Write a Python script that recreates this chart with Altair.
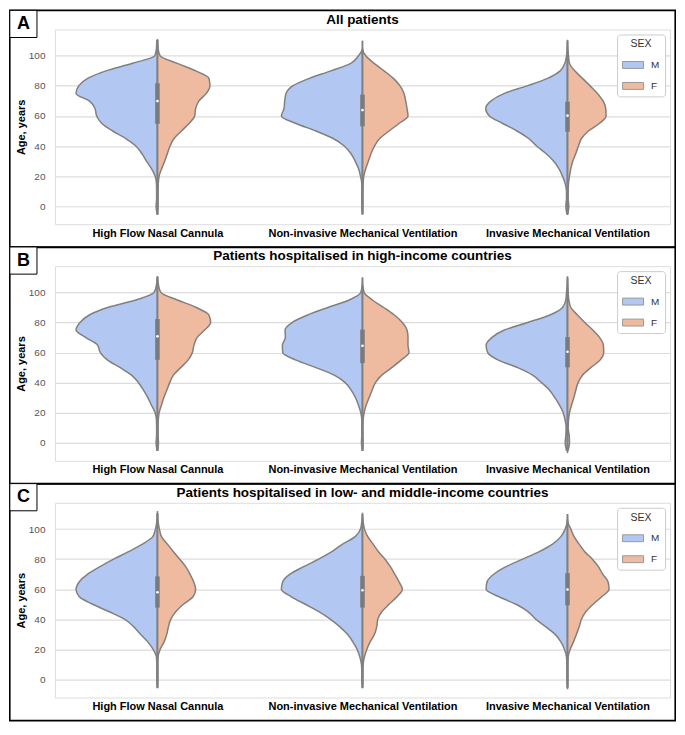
import json
import altair as alt
import pandas as pd

# ---------------- data ----------------
AGES = [-5, 0, 5, 10, 15, 20, 25, 30, 35, 40, 45, 50, 55, 60, 65, 70, 75, 80, 85, 90, 95, 100, 105, 110]
CATEGORIES = ["High Flow Nasal Cannula", "Non-invasive Mechanical Ventilation", "Invasive Mechanical Ventilation"]
SEXES = ["M", "F"]
PANEL_TITLES = ["All patients",
                "Patients hospitalised in high-income countries",
                "Patients hospitalised in low- and middle-income countries"]
PANEL_LETTERS = ["A", "B", "C"]
Y_TICKS = [0, 20, 40, 60, 80, 100]

# violin half-widths (relative density, 617 = one category band), one value per age in AGES
A_HFNC_M = [1.5, 4, 2.5, 2.5, 3, 7, 18, 33, 47, 65, 95, 135, 167, 183, 188, 205, 245, 237, 210, 155, 75, 8, 3, 2]
A_HFNC_F = [1, 2, 2, 2, 2.5, 5, 13, 22, 30, 38, 50, 72, 95, 112, 115, 125, 147, 158, 155, 115, 60, 8, 2, 1]
A_NIV_M = [1, 2, 2, 2, 2, 6, 12, 22, 35, 55, 88, 140, 200, 244, 236, 234, 230, 210, 160, 95, 35, 12, 0, 0]
A_NIV_F = [1, 1.5, 1.5, 1.5, 2, 4, 10, 18, 26, 36, 52, 80, 110, 137, 134, 130, 125, 113, 93, 65, 35, 10, 0, 0]
A_IMV_M = [2, 5, 3, 3, 7, 15, 26, 42, 65, 93, 117, 152, 195, 235, 246, 230, 190, 122, 60, 22, 8, 3, 1, 0]
A_IMV_F = [1, 4, 2, 2, 3, 6, 10, 16, 25, 33, 42, 63, 96, 116, 115, 107, 90, 68, 45, 22, 6, 3, 1, 0]

B_HFNC_M = [1.5, 4, 2.5, 2.5, 3, 7, 18, 29, 42, 57, 78, 112, 150, 172, 180, 215, 245, 233, 205, 150, 65, 10, 3, 1]
B_HFNC_F = [1, 3, 2, 2, 2.5, 5, 12, 19, 28, 37, 48, 70, 92, 105, 110, 119, 142, 160, 155, 117, 60, 10, 3, 1]
B_NIV_M = [1, 3, 2, 2, 2, 5, 12, 21, 34, 52, 85, 140, 200, 240, 241, 232, 233, 212, 165, 104, 40, 5, 1, 0]
B_NIV_F = [1, 2, 1.5, 1.5, 2, 5, 11, 20, 29, 39, 58, 88, 116, 140, 137, 137, 134, 120, 96, 64, 30, 5, 1, 0]
B_IMV_M = [3, 7, 5, 4, 7, 13, 24, 38, 54, 78, 105, 150, 208, 240, 245, 228, 190, 120, 53, 15, 5, 3, 1, 0]
B_IMV_F = [2, 6, 5, 2, 3, 6, 12, 19, 25, 32, 45, 70, 98, 109, 108, 97, 76, 52, 30, 10, 4, 2, 1, 0]

C_HFNC_M = [1, 2, 2, 2, 3, 13, 29, 51, 71, 98, 145, 195, 235, 245, 235, 210, 173, 132, 87, 45, 14, 6, 2, 1]
C_HFNC_F = [1, 1.5, 1.5, 1.5, 2, 8, 20, 28, 33, 40, 55, 78, 107, 115, 109, 98, 85, 67, 48, 30, 12, 6, 2, 1]
C_NIV_M = [1, 2, 2, 3, 8, 16, 29, 45, 68, 96, 130, 172, 214, 244, 240, 218, 177, 132, 92, 60, 22, 6, 2, 0]
C_NIV_F = [1, 1.5, 1.5, 2, 6, 13, 23, 36, 43, 46, 58, 80, 104, 120, 110, 97, 84, 68, 48, 32, 16, 6, 2, 0]
C_IMV_M = [1, 2, 2, 2, 3, 9, 20, 37, 65, 95, 118, 155, 206, 245, 242, 222, 185, 135, 85, 45, 20, 7, 1, 0]
C_IMV_F = [1, 1.5, 1.5, 1.5, 2, 8, 18, 27, 35, 42, 55, 77, 103, 125, 122, 106, 93, 75, 52, 35, 20, 10, 1, 0]

# inner box statistics per category (HFNC, NIV, IMV)
A_Q1 = [54.8, 53.1, 49.5]
A_MED = [69.9, 63.9, 60.2]
A_Q3 = [81.7, 74.2, 69.5]
A_LO = [-5.8, -5.4, -5.8]
A_HI = [111.2, 104.7, 110.7]

B_Q1 = [55.2, 53.0, 50.2]
B_MED = [70.8, 64.5, 60.6]
B_Q3 = [82.3, 75.3, 70.3]
B_LO = [-5.4, -5.4, -6.9]
B_HI = [110.8, 104.3, 110.8]

C_Q1 = [47.8, 47.8, 49.3]
C_MED = [58.0, 59.3, 59.8]
C_Q3 = [68.5, 68.9, 70.7]
C_LO = [-5.9, -5.9, -6.5]
C_HI = [112.0, 110.9, 106.0]

PROFILES = [
    [(A_HFNC_M, A_HFNC_F), (A_NIV_M, A_NIV_F), (A_IMV_M, A_IMV_F)],
    [(B_HFNC_M, B_HFNC_F), (B_NIV_M, B_NIV_F), (B_IMV_M, B_IMV_F)],
    [(C_HFNC_M, C_HFNC_F), (C_NIV_M, C_NIV_F), (C_IMV_M, C_IMV_F)],
]
STATS = [
    (A_Q1, A_MED, A_Q3, A_LO, A_HI),
    (B_Q1, B_MED, B_Q3, B_LO, B_HI),
    (C_Q1, C_MED, C_Q3, C_LO, C_HI),
]
BAND = 617.0

# ---------------- style ----------------
FONT = "Liberation Sans"
BLUE = "#b2c8f3"
ORANGE = "#eebba0"
GREY = "#808080"
W, H = 616, 195

x_scale = alt.Scale(domain=[-0.5, 2.5], nice=False, zero=False)
y_scale = alt.Scale(domain=[-12, 117.5], nice=False, zero=False)
label_expr = json.dumps(CATEGORIES) + "[datum.value]"

x_axis = alt.Axis(values=[0, 1, 2], labelExpr=label_expr, ticks=False, domain=False, grid=False,
                  labelFont=FONT, labelFontWeight="bold", labelFontSize=11, labelColor="black",
                  labelPadding=3, labelOverlap=False, labelBound=False, labelFlush=False,
                  labelLimit=400, title=None)
y_axis = alt.Axis(values=Y_TICKS, ticks=False, domain=False, grid=True, gridColor="#dcdcdc",
                  gridWidth=1.2, labelFont=FONT, labelColor="#555555", labelFontSize=10,
                  labelPadding=10, title="Age, years", titleFont=FONT, titleFontSize=11,
                  titleFontWeight="bold", titleColor="black", titlePadding=2)


def violin_df(profiles):
    rows = []
    for ci, (m, f) in enumerate(profiles):
        for sex, widths in (("M", m), ("F", f)):
            for age, v in zip(AGES, widths):
                hw = v / BAND
                lo, hi = (ci - hw, ci) if sex == "M" else (ci, ci + hw)
                rows.append(dict(cat=ci, sex=sex, series=f"{ci}-{sex}", age=age, lo=lo, hi=hi))
    return pd.DataFrame(rows)


def panel(i):
    vdf = violin_df(PROFILES[i])
    q1, med, q3, lo, hi = STATS[i]
    sdf = pd.DataFrame(dict(cat=[0, 1, 2], q1=q1, med=med, q3=q3, lo=lo, hi=hi))
    one = pd.DataFrame({"k": [0]})

    frame = alt.Chart(one).mark_rect(fillOpacity=0, stroke="black", strokeWidth=1.6).encode(
        x=alt.value(-45.2), x2=alt.value(W + 5.2), y=alt.value(-19.2), y2=alt.value(H + 23.2))
    letter_box = alt.Chart(one).mark_rect(fill="white", stroke="black", strokeWidth=1).encode(
        x=alt.value(-45.2), x2=alt.value(-18), y=alt.value(-19.2), y2=alt.value(8))
    letter = alt.Chart(one).mark_text(font=FONT, fontSize=18, fontWeight="bold", color="black",
                                      align="center", baseline="middle").encode(
        x=alt.value(-31.6), y=alt.value(-5.4), text=alt.value(PANEL_LETTERS[i]))
    title = alt.Chart(one).mark_text(font=FONT, fontSize=13.5, fontWeight="bold", color="black",
                                     align="center", baseline="alphabetic").encode(
        x=alt.value(W / 2), y=alt.value(-6), text=alt.value(PANEL_TITLES[i]))

    violins = alt.Chart(vdf).mark_area(orient="horizontal", interpolate="monotone", stroke=GREY,
                                       strokeWidth=1.5, opacity=1).encode(
        y=alt.Y("age:Q", scale=y_scale, axis=y_axis),
        x=alt.X("lo:Q", scale=x_scale, axis=x_axis),
        x2="hi:Q",
        detail="series:N",
        color=alt.Color("sex:N", scale=alt.Scale(domain=SEXES, range=[BLUE, ORANGE]),
                        legend=alt.Legend(title="SEX", orient="top-right", offset=5,
                                          fillColor="white", strokeColor="#cccccc", cornerRadius=3,
                                          padding=5, titleFont=FONT, titleFontSize=10.5,
                                          titleFontWeight="normal", titleColor="#333333",
                                          titleAnchor="middle", titlePadding=4,
                                          labelFont=FONT, labelFontSize=10, labelColor="#333333",
                                          labelOffset=7, rowPadding=4,
                                          symbolType="M-1,-0.33H1V0.33H-1Z", symbolSize=441,
                                          symbolStrokeColor="#999999", symbolStrokeWidth=1,
                                          symbolOpacity=1)),
    )
    whisker = alt.Chart(sdf).mark_rule(color=GREY, strokeWidth=1.6).encode(
        x=alt.X("cat:Q", scale=x_scale, axis=x_axis),
        y=alt.Y("lo:Q", scale=y_scale, axis=y_axis), y2="hi:Q")
    box = alt.Chart(sdf).mark_rule(color="#7a7a7a", strokeWidth=4.5).encode(
        x=alt.X("cat:Q", scale=x_scale, axis=x_axis),
        y=alt.Y("q1:Q", scale=y_scale, axis=y_axis), y2="q3:Q")
    median = alt.Chart(sdf).mark_point(filled=True, color="white", size=7, opacity=1).encode(
        x=alt.X("cat:Q", scale=x_scale, axis=x_axis),
        y=alt.Y("med:Q", scale=y_scale, axis=y_axis))

    return alt.layer(frame, letter_box, letter, title, violins, whisker, box, median).properties(
        width=W, height=H)


chart = alt.vconcat(panel(0), panel(1), panel(2), spacing=-4).resolve_scale(
    color="independent").resolve_legend(color="independent").properties(padding=0).configure_view(
    stroke="#dcdcdc", strokeWidth=1).configure(font=FONT)

chart.save("out.html", embed_options={"renderer": "svg", "actions": False})
